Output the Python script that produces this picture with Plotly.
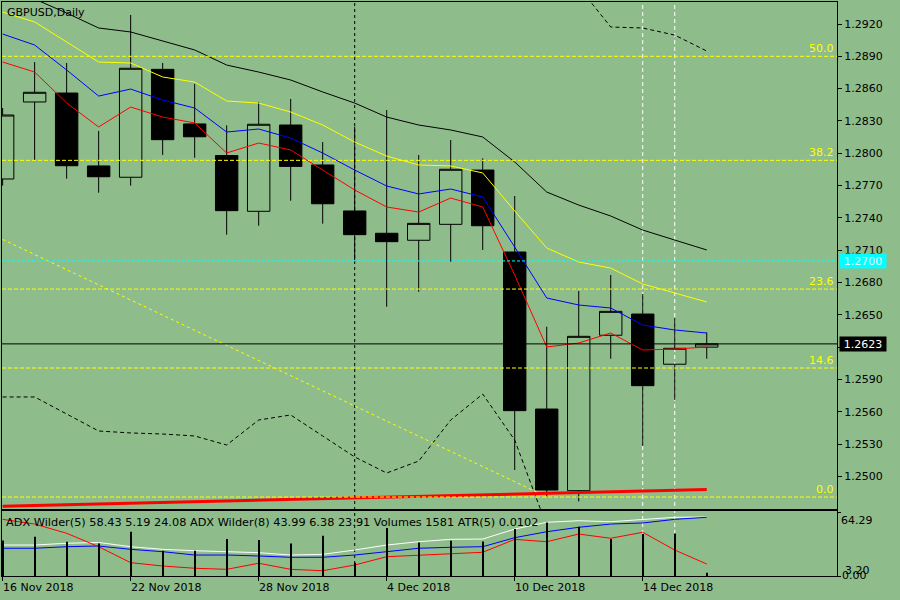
import plotly.graph_objects as go

# GBPUSD daily bars
dates = ["16 Nov", "19 Nov", "20 Nov", "21 Nov", "22 Nov", "23 Nov", "26 Nov", "27 Nov",
         "28 Nov", "29 Nov", "30 Nov", "3 Dec", "4 Dec", "5 Dec", "6 Dec", "7 Dec",
         "10 Dec", "11 Dec", "12 Dec", "13 Dec", "14 Dec", "17 Dec", "18 Dec"]
opens = [1.27761, 1.28476, 1.28559, 1.27882, 1.27777, 1.28779, 1.28272, 1.27979,
         1.27461, 1.28262, 1.27891, 1.27464, 1.27257, 1.27192, 1.27340, 1.27844,
         1.27083, 1.25625, 1.24867, 1.26310, 1.26507, 1.26041, 1.26200]
highs = [1.28420, 1.28847, 1.28838, 1.28207, 1.29284, 1.28838, 1.28643, 1.28259,
         1.28476, 1.28504, 1.28104, 1.28247, 1.28401, 1.27984, 1.28123, 1.27953,
         1.27603, 1.26389, 1.26721, 1.26869, 1.26693, 1.26468, 1.26337]
lows = [1.27700, 1.27937, 1.27764, 1.27634, 1.27699, 1.27984, 1.27958, 1.27244,
        1.27327, 1.27559, 1.27346, 1.27007, 1.26575, 1.26714, 1.26993, 1.27102,
        1.25059, 1.24811, 1.24767, 1.26092, 1.25284, 1.25710, 1.26092]
closes = [1.28355, 1.28566, 1.27884, 1.27782, 1.28789, 1.28126, 1.28153, 1.27467,
          1.28269, 1.27878, 1.27531, 1.27244, 1.27179, 1.27349, 1.27851, 1.27327,
          1.25610, 1.24873, 1.26300, 1.26532, 1.25842, 1.26189, 1.26230]

# moving averages
ma_black = [1.29544, 1.29432, 1.29302, 1.29163, 1.29126, 1.29042, 1.28959, 1.28819,
            1.28754, 1.28680, 1.28569, 1.28466, 1.28336, 1.28262, 1.28216, 1.28151,
            1.27919, 1.27640, 1.27519, 1.27417, 1.27287, 1.27194, 1.27102]
ma_yellow = [1.29311, 1.29219, 1.29033, 1.28847, 1.28838, 1.28708, 1.28661, 1.28485,
             1.28466, 1.28383, 1.28262, 1.28104, 1.27974, 1.27891, 1.27882, 1.27817,
             1.27464, 1.27120, 1.26990, 1.26934, 1.26786, 1.26702, 1.26619]
ma_blue = [1.29107, 1.29005, 1.28773, 1.28531, 1.28596, 1.28494, 1.28420, 1.28197,
           1.28225, 1.28141, 1.28002, 1.27844, 1.27696, 1.27622, 1.27668, 1.27594,
           1.27129, 1.26656, 1.26591, 1.26563, 1.26405, 1.26359, 1.26331]
ma_red = [1.28847, 1.28754, 1.28467, 1.28244, 1.28429, 1.28336, 1.28281, 1.28002,
          1.28095, 1.28030, 1.27844, 1.27659, 1.27501, 1.27454, 1.27584, 1.27501,
          1.26869, 1.26201, 1.26238, 1.26331, 1.26173, 1.26182, 1.26201]

# envelope bands (only the visible parts)
band_low = [1.25737, 1.25737, 1.25579, 1.25421, 1.25403, 1.25393, 1.25375, 1.25291,
            1.25523, 1.25570, 1.25375, 1.25180, 1.25031, 1.25142, 1.25523, 1.25764,
            1.25337, 1.24539]
band_up_start = 18
band_up = [1.29544, 1.29172, 1.29163, 1.29097, 1.28949]

# drawn objects
fib_levels = [1.28900, 1.27934, 1.26739, 1.26006, 1.24808]
fib_labels = ["50.0", "38.2", "23.6", "14.6", "0.0"]
trend_yellow = ([0, 17], [1.27200, 1.24810])
trend_red = ([0, 22], [1.24722, 1.24878])
cyan_level = 1.2700
bid = 1.2623

# indicator window
adx_white = [31.6, 31.6, 33.4, 34.2, 29.9, 27.2, 25.8, 24.8, 23.8, 21.4, 22.1, 26.5,
             31.6, 35.0, 37.4, 37.7, 47.9, 54.8, 56.4, 55.4, 57.8, 59.9, 60.2]
adx_blue = [28.3, 28.3, 29.9, 30.6, 27.2, 24.8, 21.4, 21.4, 20.4, 19.1, 19.1, 21.4,
            24.8, 28.3, 29.3, 29.9, 39.1, 45.2, 49.7, 53.0, 54.1, 57.8, 59.9]
adx_red = [57.8, 53.0, 43.6, 29.9, 13.6, 10.2, 7.9, 6.8, 13.0, 6.8, 5.4, 11.2,
           19.7, 21.4, 23.2, 24.2, 37.4, 35.0, 42.8, 38.5, 44.6, 26.5, 12.2]
volumes = [17000, 18820, 16430, 15620, 21220, 12120, 12120, 17720, 17240, 15620, 19300,
           6370, 22990, 16090, 16910, 16570, 22510, 25670, 23610, 17720, 20120, 20410, 1581]

tick_idx = [0, 4, 8, 12, 16, 20]
tick_text = ["16 Nov 2018", "22 Nov 2018", "28 Nov 2018", "4 Dec 2018", "10 Dec 2018", "14 Dec 2018"]
price_ticks = [1.2500, 1.2530, 1.2560, 1.2590, 1.2620, 1.2650, 1.2680, 1.2710,
               1.2740, 1.2770, 1.2800, 1.2830, 1.2860, 1.2890, 1.2920]

BG = "#8FBC8B"
FONT = "DejaVu Sans"
xs = list(range(len(dates)))

fig = go.Figure()

fig.add_trace(go.Candlestick(
    x=xs, open=opens, high=highs, low=lows, close=closes,
    increasing=dict(line=dict(color="black", width=1), fillcolor="rgba(0,0,0,0)"),
    decreasing=dict(line=dict(color="black", width=1), fillcolor="black"),
    whiskerwidth=0, hoverinfo="skip", xaxis="x", yaxis="y"))


def line(x, y, color, width=1, dash="solid", xa="x", ya="y"):
    fig.add_trace(go.Scatter(x=x, y=y, mode="lines", hoverinfo="skip",
                             line=dict(color=color, width=width, dash=dash),
                             xaxis=xa, yaxis=ya))


line(xs, ma_black, "black")
line(xs, ma_yellow, "#ffff00")
line(xs, ma_blue, "#0000ff")
line(xs, ma_red, "#ff0000")
line(xs[:len(band_low)], band_low, "black", dash="4px,3px")
line(xs[band_up_start:], band_up, "black", dash="4px,3px")
line(trend_yellow[0], trend_yellow[1], "#ffff00", dash="3px,3px")
line(trend_red[0], trend_red[1], "#ff0000", width=3)

# indicator window
fig.add_trace(go.Bar(x=xs, y=volumes, width=0.035, marker=dict(color="black", line=dict(width=0)),
                     hoverinfo="skip", xaxis="x2", yaxis="y3"))
line(xs, adx_white, "white", xa="x2", ya="y2")
line(xs, adx_blue, "#0000ff", xa="x2", ya="y2")
line(xs, adx_red, "#ff0000", xa="x2", ya="y2")

shapes = []
for lv in fib_levels:
    shapes.append(dict(type="line", xref="x domain", yref="y", x0=0, x1=1, y0=lv, y1=lv,
                       line=dict(color="#ffff00", width=1, dash="4px,2px")))
shapes.append(dict(type="line", xref="x domain", yref="y", x0=0, x1=1, y0=cyan_level, y1=cyan_level,
                   line=dict(color="#00ffff", width=1, dash="3px,2px")))
shapes.append(dict(type="line", xref="x domain", yref="y", x0=0, x1=1, y0=bid, y1=bid,
                   line=dict(color="black", width=1)))
shapes.append(dict(type="line", xref="x", yref="paper", x0=11, x1=11, y0=0, y1=1, layer="below",
                   line=dict(color="black", width=1, dash="3px,3px")))
for i in (20, 21):
    shapes.append(dict(type="line", xref="x", yref="paper", x0=i, x1=i, y0=0, y1=1, layer="below",
                       line=dict(color="white", width=1, dash="4px,3px")))

ann = []
ann.append(dict(text="GBPUSD,Daily", xref="paper", yref="paper", x=0, y=1, xanchor="left",
                yanchor="top", xshift=3, yshift=-2, showarrow=False,
                font=dict(family=FONT, size=11, color="black")))
for lv, lb in zip(fib_levels, fib_labels):
    ann.append(dict(text=lb, xref="paper", yref="y", x=1, y=lv, xanchor="right", yanchor="bottom",
                    xshift=-1, yshift=-1, showarrow=False,
                    font=dict(family=FONT, size=11, color="#ffff00")))
ann.append(dict(text="ADX Wilder(5) 58.43 5.19 24.08 ADX Wilder(8) 43.99 6.38 23.91 Volumes 1581 ATR(5) 0.0102",
                xref="paper", yref="y2 domain", x=0, y=1, xanchor="left", yanchor="top",
                xshift=2, yshift=-3, showarrow=False, font=dict(family=FONT, size=11.3, color="black")))
for i, t in zip(tick_idx, tick_text):
    ann.append(dict(text=t, xref="x2", yref="paper", x=i, y=0, xanchor="left", yanchor="top",
                    xshift=-2, yshift=-3, showarrow=False, font=dict(family=FONT, size=11, color="black")))
for lv, col, txt in ((bid, "black", "white"), (cyan_level, "#00ffff", "#e8ffff")):
    ann.append(dict(text=f"{lv:.4f}", xref="paper", yref="y", x=1, y=lv, xanchor="left",
                    yanchor="middle", xshift=2, showarrow=False, bgcolor=col, borderpad=1,
                    width=44, height=12, font=dict(family=FONT, size=11, color=txt)))
ann.append(dict(text="64.29", xref="paper", yref="y2", x=1, y=64.29, xanchor="left", yanchor="top",
                xshift=2, yshift=1, showarrow=False, font=dict(family=FONT, size=11, color="black")))
ann.append(dict(text="3.20", xref="paper", yref="y2", x=1, y=0, xanchor="left", yanchor="middle",
                xshift=6, yshift=6, showarrow=False, font=dict(family=FONT, size=11, color="black")))
ann.append(dict(text="0.00", xref="paper", yref="y2", x=1, y=0, xanchor="left", yanchor="middle",
                xshift=3, yshift=1, showarrow=False, font=dict(family=FONT, size=11, color="black")))

# the 1.2620 label sits under the bid box in the original
price_text = ["" if abs(v - 1.2620) < 1e-9 else f"{v:.4f}" for v in price_ticks]

axis_common = dict(showgrid=False, zeroline=False, showline=True, linecolor="black", linewidth=1,
                   mirror=True)
xr = [-0.02, 26.07]

fig.update_layout(
    width=900, height=600,
    margin=dict(l=2, r=63, t=2, b=24, autoexpand=False),
    paper_bgcolor=BG, plot_bgcolor=BG,
    showlegend=False, hovermode=False,
    boxgap=0.3, boxgroupgap=0,
    font=dict(family=FONT, size=11, color="black"),
    xaxis=dict(domain=[0, 1], anchor="y", range=xr, showticklabels=False, ticks="",
               rangeslider=dict(visible=False), **axis_common),
    xaxis2=dict(domain=[0, 1], anchor="y2", range=xr, matches="x", showticklabels=False,
                tickvals=tick_idx, ticks="outside", ticklen=4, tickcolor="black", **axis_common),
    yaxis=dict(domain=[0.1167, 1], anchor="x", side="right", range=[1.246967, 1.294043],
               tickvals=price_ticks, ticktext=price_text,
               ticks="outside", ticklen=4, tickcolor="black",
               tickfont=dict(family=FONT, size=11, color="black"), **axis_common),
    yaxis2=dict(domain=[0, 0.1132], anchor="x2", side="right", range=[0, 66.3],
                tickvals=[0, 64.29], showticklabels=False, ticks="outside", ticklen=3,
                tickcolor="black", **axis_common),
    yaxis3=dict(overlaying="y2", range=[0, 31135], visible=False),
    shapes=shapes, annotations=ann,
)

# the page's default body margin would shift the figure by 8px
fig.write_html("out.html", config={"displayModeBar": False},
               post_script="document.body.style.margin='0';")
